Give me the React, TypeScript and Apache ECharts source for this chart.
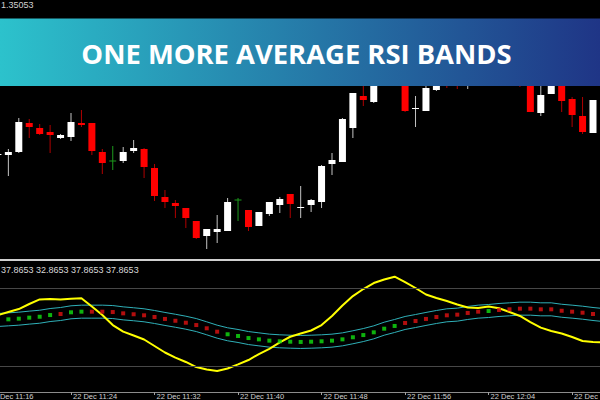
import React, { useEffect, useRef } from "react";
import * as echarts from "echarts";

const TITLE = "ONE MORE AVERAGE RSI BANDS";
const PRICE_LABEL = "1.35053";
const INDICATOR_VALUES = "37.8653 32.8653 37.8653 37.8653";
const DATE_PREFIX = "22 Dec ";
const LABEL_EVERY = 8;
const LEVELS = [80, 20];

const TIMES = [
  "11:16", "11:17", "11:18", "11:19", "11:20", "11:21", "11:22", "11:23", "11:24", "11:25",
  "11:26", "11:27", "11:28", "11:29", "11:30", "11:31", "11:32", "11:33", "11:34", "11:35",
  "11:36", "11:37", "11:38", "11:39", "11:40", "11:41", "11:42", "11:43", "11:44", "11:45",
  "11:46", "11:47", "11:48", "11:49", "11:50", "11:51", "11:52", "11:53", "11:54", "11:55",
  "11:56", "11:57", "11:58", "11:59", "12:00", "12:01", "12:02", "12:03", "12:04", "12:05",
  "12:06", "12:07", "12:08", "12:09", "12:10", "12:11", "12:12", "12:13", "12:14", "12:15",
];

const OPEN = [
  null, 1.34945, 1.34945, 1.34948, 1.34977, 1.34972, 1.34968, 1.34962, 1.34963, 1.34977,
  1.34977, 1.34948, 1.34939, 1.34939, 1.34949, 1.34951, 1.34932, 1.34903, 1.34897, 1.34892,
  1.34879, 1.34864, 1.34868, 1.34869, 1.349, 1.3489, 1.34874, 1.34886, 1.34895, 1.34906,
  1.34892, 1.34895, 1.34898, 1.34936, 1.34938, 1.34972, 1.35004, 1.34998, 1.3504, 1.35055,
  1.35045, 1.34991, 1.34989, 1.3501, 1.3503, 1.35022, 1.35016, 1.35028, 1.35038, 1.3505,
  1.35042, 1.3503, 1.3502, 1.34987, 1.35006, 1.35022, 1.35001, 1.34984, 1.34967, null,
];
const HIGH = [
  null, 1.34947, 1.34951, 1.34982, 1.34981, 1.34976, 1.34975, 1.34966, 1.34987, 1.3499,
  1.34977, 1.34951, 1.34954, 1.34953, 1.3496, 1.34952, 1.34936, 1.3491, 1.349, 1.34892,
  1.34879, 1.34871, 1.34885, 1.34902, 1.34902, 1.3489, 1.34888, 1.34898, 1.34903, 1.34906,
  1.34914, 1.34901, 1.34935, 1.34947, 1.34982, 1.35007, 1.3503, 1.3505, 1.35065, 1.3507,
  1.3505, 1.35004, 1.35015, 1.35035, 1.35038, 1.3503, 1.35035, 1.35045, 1.35055, 1.35056,
  1.35048, 1.35035, 1.35025, 1.3502, 1.35028, 1.35025, 1.35003, 1.35003, 1.35, null,
];
const LOW = [
  null, 1.34944, 1.34924, 1.34947, 1.34962, 1.34965, 1.34947, 1.34961, 1.34959, 1.34973,
  1.34945, 1.34926, 1.3493, 1.34937, 1.34947, 1.34922, 1.34899, 1.34892, 1.34882, 1.34872,
  1.34861, 1.34851, 1.34857, 1.34869, 1.34879, 1.34869, 1.34874, 1.34884, 1.34887, 1.34882,
  1.34882, 1.34888, 1.34892, 1.34925, 1.34938, 1.34962, 1.34994, 1.34997, 1.35025, 1.35038,
  1.34988, 1.34973, 1.34989, 1.35009, 1.35012, 1.35011, 1.35011, 1.35022, 1.35034, 1.35038,
  1.35025, 1.35013, 1.34988, 1.34984, 1.35006, 1.34988, 1.34973, 1.34966, 1.34967, null,
];
const CLOSE = [
  null, 1.34946, 1.34948, 1.34978, 1.34973, 1.34966, 1.34965, 1.34965, 1.34978, 1.34975,
  1.34949, 1.34937, 1.34939, 1.34948, 1.34952, 1.34933, 1.34904, 1.34898, 1.34894, 1.34882,
  1.34862, 1.34871, 1.34871, 1.34898, 1.349, 1.34873, 1.34888, 1.34898, 1.34901, 1.34896,
  1.34893, 1.349, 1.34934, 1.3494, 1.34981, 1.35007, 1.35, 1.3504, 1.35055, 1.35045,
  1.34989, 1.34992, 1.35012, 1.3503, 1.3502, 1.35016, 1.35028, 1.3504, 1.3505, 1.35042,
  1.3503, 1.3502, 1.34988, 1.35005, 1.35022, 1.34999, 1.34985, 1.34968, 1.35, null,
];

const RSI = [
  null, 59.2, 61.5, 63.8, 67.7, 71.2, 71.5, 71.2, 71.7, 72.1,
  65.8, 59.2, 51.5, 46.4, 43.5, 40.4, 35.4, 30.4, 26.5, 23.1,
  19.2, 17.3, 16.2, 18.1, 21.2, 24.6, 29.2, 33.1, 38.1, 42.5,
  45.0, 47.3, 51.5, 58.5, 66.5, 73.8, 79.2, 83.8, 86.5, 88.7,
  84.6, 80.0, 75.0, 72.3, 70.0, 67.3, 65.0, 64.6, 65.8, 64.4,
  61.5, 58.5, 53.8, 49.5, 46.9, 45.0, 42.3, 39.2, 38.5, 38.2,
];
const MID = [
  null, 55.4, 55.9, 56.4, 57.2, 57.9, 59.2, 60.0, 61.3, 61.8,
  61.8, 61.8, 61.5, 60.5, 59.8, 59.0, 57.7, 56.2, 54.8, 53.3,
  51.5, 49.0, 46.4, 44.4, 43.1, 41.5, 40.5, 39.5, 39.0, 38.7,
  38.5, 38.7, 39.0, 39.5, 40.5, 42.1, 43.8, 45.9, 48.7, 50.8,
  53.1, 54.6, 56.2, 57.7, 59.0, 59.5, 60.8, 61.8, 62.3, 63.1,
  63.6, 64.1, 64.1, 63.6, 63.6, 62.5, 61.8, 61.0, 60.0, 59.2,
];
const UPPER = [
  null, 60.4, 60.9, 61.4, 62.2, 62.9, 64.2, 65.0, 66.3, 66.8,
  66.8, 66.8, 66.5, 65.5, 64.8, 64.0, 62.7, 61.2, 59.8, 58.3,
  56.5, 54.0, 51.4, 49.4, 48.1, 46.5, 45.5, 44.5, 44.0, 43.7,
  43.5, 43.7, 44.0, 44.5, 45.5, 47.1, 48.8, 50.9, 53.7, 55.8,
  58.1, 59.6, 61.2, 62.7, 64.0, 64.5, 65.8, 66.8, 67.3, 68.1,
  68.6, 69.1, 69.1, 68.6, 68.6, 67.5, 66.8, 66.0, 65.0, 64.2,
];
const LOWER = [
  null, 50.4, 50.9, 51.4, 52.2, 52.9, 54.2, 55.0, 56.3, 56.8,
  56.8, 56.8, 56.5, 55.5, 54.8, 54.0, 52.7, 51.2, 49.8, 48.3,
  46.5, 44.0, 41.4, 39.4, 38.1, 36.5, 35.5, 34.5, 34.0, 33.7,
  33.5, 33.7, 34.0, 34.5, 35.5, 37.1, 38.8, 40.9, 43.7, 45.8,
  48.1, 49.6, 51.2, 52.7, 54.0, 54.5, 55.8, 56.8, 57.3, 58.1,
  58.6, 59.1, 59.1, 58.6, 58.6, 57.5, 56.8, 56.0, 55.0, 54.2,
];

export default function App() {
  const ref = useRef<HTMLDivElement>(null);

  useEffect(() => {
    if (!ref.current) return;
    const chart = echarts.init(ref.current, null, { renderer: "svg" });

    const candleData: any[] = [];
    TIMES.forEach((_, i) => {
      if (OPEN[i] != null) candleData.push([i, OPEN[i], CLOSE[i], LOW[i], HIGH[i]]);
    });

    const gridLeft = -17.74;
    const gridWidth = 626.4;

    const showIdx = (i: number) => i % LABEL_EVERY === 0;

    chart.setOption({
      animation: false,
      backgroundColor: "#000000",
      grid: [
        { left: gridLeft, width: gridWidth, top: 0, height: 260, outerBoundsMode: "none", containLabel: false },
        { left: gridLeft, width: gridWidth, top: 262, height: 130, outerBoundsMode: "none", containLabel: false },
      ],
      xAxis: [
        {
          type: "category",
          gridIndex: 0,
          data: TIMES,
          axisLine: { show: true, lineStyle: { color: "#d0d0d0", width: 2 } },
          axisTick: { show: false },
          axisLabel: { show: false },
          splitLine: { show: false },
        },
        {
          type: "category",
          gridIndex: 1,
          data: TIMES,
          axisLine: { show: true, lineStyle: { color: "#8c8c8c", width: 1 } },
          axisTick: {
            show: true,
            alignWithLabel: true,
            length: 3,
            interval: (i: number) => showIdx(i),
            lineStyle: { color: "#a0a0a0" },
          },
          axisLabel: {
            show: true,
            interval: (i: number) => showIdx(i),
            formatter: (v: string) => DATE_PREFIX + v,
            align: "left",
            verticalAlign: "top",
            margin: 0,
            lineHeight: 8,
            padding: [0, 0, 0, 2],
            color: "#d0d0d0",
            fontSize: 7.5,
            fontFamily: "Liberation Sans",
            hideOverlap: false,
          },
          splitLine: { show: false },
        },
      ],
      yAxis: [
        { type: "value", gridIndex: 0, min: 1.3484, max: 1.351, show: false, splitLine: { show: false } },
        { type: "value", gridIndex: 1, min: 0, max: 100, show: false, splitLine: { show: false } },
      ],
      series: [
        {
          type: "custom",
          name: "Price",
          xAxisIndex: 0,
          yAxisIndex: 0,
          data: candleData,
          encode: { x: 0, y: [1, 2, 3, 4] },
          renderItem: (params: any, api: any) => {
            const idx = api.value(0);
            const o = api.value(1);
            const c = api.value(2);
            const l = api.value(3);
            const h = api.value(4);
            const pO = api.coord([idx, o]);
            const x = pO[0];
            const yO = pO[1];
            const yC = api.coord([idx, c])[1];
            const yL = api.coord([idx, l])[1];
            const yH = api.coord([idx, h])[1];
            const bw = 7;
            const doji = o === c;
            const bull = c > o;
            const wick = doji ? "#1c9a1c" : bull ? "#c4c4c4" : "#b00000";
            const body = doji ? "#1c9a1c" : bull ? "#ffffff" : "#ff0000";
            const top = Math.min(yO, yC);
            const bot = Math.max(yO, yC);
            return {
              type: "group",
              children: [
                {
                  type: "line",
                  shape: { x1: x, y1: yH, x2: x, y2: yL },
                  style: { stroke: wick, lineWidth: 1 },
                },
                doji
                  ? {
                      type: "line",
                      shape: { x1: x - bw / 2, y1: yO, x2: x + bw / 2, y2: yO },
                      style: { stroke: body, lineWidth: 1 },
                    }
                  : {
                      type: "rect",
                      shape: { x: x - bw / 2, y: top, width: bw, height: Math.max(bot - top, 1) },
                      style: { fill: body },
                    },
              ],
            };
          },
          z: 2,
        },
        {
          type: "line",
          name: "Upper",
          xAxisIndex: 1,
          yAxisIndex: 1,
          data: UPPER,
          showSymbol: false,
          lineStyle: { color: "#2fb0b8", width: 1 },
          markLine: {
            silent: true,
            symbol: "none",
            label: { show: false },
            lineStyle: { color: "#474747", width: 1, type: "solid" },
            data: LEVELS.map((v) => ({ yAxis: v })),
          },
          z: 3,
        },
        {
          type: "line",
          name: "Lower",
          xAxisIndex: 1,
          yAxisIndex: 1,
          data: LOWER,
          showSymbol: false,
          lineStyle: { color: "#2fb0b8", width: 1 },
          z: 3,
        },
        {
          type: "line",
          name: "RSI",
          xAxisIndex: 1,
          yAxisIndex: 1,
          data: RSI,
          showSymbol: false,
          lineStyle: { color: "#ffff00", width: 2 },
          z: 4,
        },
        {
          type: "scatter",
          name: "Middle",
          xAxisIndex: 1,
          yAxisIndex: 1,
          data: MID,
          symbol: "rect",
          symbolSize: 4,
          itemStyle: {
            color: (p: any) => {
              const i = p.dataIndex;
              const prev = RSI[i - 1];
              const cur = RSI[i];
              if (prev == null || cur == null) return "#11e011";
              return cur >= prev ? "#11e011" : "#e01111";
            },
          },
          z: 5,
        },
      ],
      graphic: [
        {
          type: "rect",
          z: 100,
          shape: { x: 0, y: 18.5, width: 600, height: 67.5 },
          style: {
            fill: new echarts.graphic.LinearGradient(0, 0, 1, 0, [
              { offset: 0, color: "#2cc2cc" },
              { offset: 1, color: "#1f3586" },
            ]),
          },
        },
        {
          type: "text",
          z: 101,
          x: 296.5,
          y: 53,
          style: {
            text: TITLE,
            fill: "#ffffff",
            fontSize: 27.4,
            fontWeight: "bold",
            fontFamily: "Open Sans",
            textAlign: "center",
            textVerticalAlign: "middle",
          },
        },
        {
          type: "text",
          z: 101,
          x: 1,
          y: 5,
          style: {
            text: PRICE_LABEL,
            fill: "#d0d0d0",
            fontSize: 9,
            fontFamily: "Liberation Sans",
            textAlign: "left",
            textVerticalAlign: "middle",
          },
        },
        {
          type: "text",
          z: 101,
          x: 1,
          y: 269.5,
          style: {
            text: INDICATOR_VALUES,
            fill: "#d8d8d8",
            fontSize: 9,
            fontFamily: "Liberation Sans",
            textAlign: "left",
            textVerticalAlign: "middle",
          },
        },
      ],
    });

    return () => chart.dispose();
  }, []);

  return (
    <div
      ref={ref}
      style={{ position: "fixed", left: 0, top: 0, width: 600, height: 400, background: "#000" }}
    />
  );
}
